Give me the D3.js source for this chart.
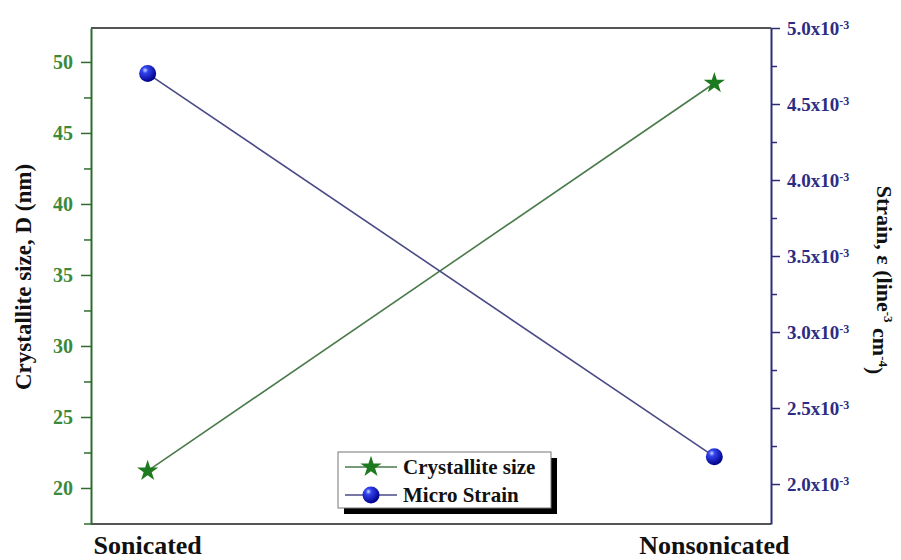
<!DOCTYPE html>
<html>
<head>
<meta charset="utf-8">
<script src="https://cdn.jsdelivr.net/npm/d3@7"></script>
<style>
  body { margin: 0; background: #fff; }
  text { font-family: "Liberation Serif", "Times New Roman", serif; font-weight: bold; }
</style>
</head>
<body>
<div class="graph"></div>
<script>
var categories = ['Sonicated', 'Nonsonicated'],
    crystalliteSize = [21.2, 48.5],
    microStrain = [4.70e-3, 2.18e-3]

var leftTicks = [20, 25, 30, 35, 40, 45, 50],
    rightTicks = [2.0e-3, 2.5e-3, 3.0e-3, 3.5e-3, 4.0e-3, 4.5e-3, 5.0e-3]

var width = 901,
    height = 560,
    plotLeft = 91, plotRight = 771, plotTop = 28, plotBottom = 524

var x = d3.scalePoint()
    .domain(categories)
    .range([plotLeft, plotRight])
    .padding(0.1)

var yL = d3.scaleLinear()
    .domain([17.465, 52.39])
    .range([plotBottom, plotTop])

var yR = d3.scaleLinear()
    .domain([1.737e-3, 5.0e-3])
    .range([plotBottom, plotTop])

var svg = d3.select('.graph').append('svg')
    .attr('width', width)
    .attr('height', height)

var defs = svg.append('defs')
var grad = defs.append('radialGradient')
    .attr('id', 'ball')
    .attr('cx', '35%').attr('cy', '30%').attr('r', '70%')
grad.append('stop').attr('offset', '0%').attr('stop-color', '#c8d8ff')
grad.append('stop').attr('offset', '25%').attr('stop-color', '#3344ee')
grad.append('stop').attr('offset', '100%').attr('stop-color', '#00008a')

// frame lines top and bottom
svg.append('line')
    .attr('x1', plotLeft).attr('x2', plotRight).attr('y1', plotTop).attr('y2', plotTop)
    .style('stroke', '#555').style('stroke-width', 2)
svg.append('line')
    .attr('x1', plotLeft).attr('x2', plotRight).attr('y1', plotBottom).attr('y2', plotBottom)
    .style('stroke', '#555').style('stroke-width', 2)

// left axis
var greenAxis = '#2f6b2f', greenText = '#3b8a3b'
var minorL = leftTicks.slice(0, -1).map(function(d) { return d + 2.5 })
minorL.unshift(17.5)

svg.append('g')
    .attr('transform', `translate(${plotLeft},0)`)
    .call(d3.axisLeft(yL).tickValues(minorL).tickSize(7).tickFormat(''))
    .call(function(g) {
	g.select('.domain').remove()
	g.selectAll('line').style('stroke', greenAxis).style('stroke-width', 1.5)
    })

svg.append('g')
    .attr('transform', `translate(${plotLeft},0)`)
    .call(d3.axisLeft(yL).tickValues(leftTicks).tickSize(10).tickPadding(8).tickSizeOuter(0))
    .call(function(g) {
	g.select('.domain').style('stroke', greenAxis).style('stroke-width', 2)
	g.selectAll('.tick line').style('stroke', greenAxis).style('stroke-width', 1.5)
	g.selectAll('.tick text')
	    .style('fill', greenText)
	    .style('font-size', '20px')
	    .style('font-family', '"Liberation Serif", serif')
	    .style('font-weight', 'bold')
    })

// right axis
var blueAxis = '#2e2e78', blueText = '#2c2c82'
var minorR = rightTicks.slice(0, -1).map(function(d) { return d + 0.25e-3 })

svg.append('g')
    .attr('transform', `translate(${plotRight},0)`)
    .call(d3.axisRight(yR).tickValues(minorR).tickSize(6).tickFormat(''))
    .call(function(g) {
	g.select('.domain').remove()
	g.selectAll('line').style('stroke', blueAxis).style('stroke-width', 1.5)
    })

var rAxis = svg.append('g')
    .attr('transform', `translate(${plotRight},0)`)
    .call(d3.axisRight(yR).tickValues(rightTicks).tickSize(9).tickPadding(7).tickSizeOuter(0))
rAxis.select('.domain').style('stroke', blueAxis).style('stroke-width', 2)
rAxis.selectAll('.tick line').style('stroke', blueAxis).style('stroke-width', 1.5)
rAxis.selectAll('.tick text')
    .text(null)
    .style('fill', blueText)
    .style('font-size', '19px')
    .style('font-family', '"Liberation Serif", serif')
    .style('font-weight', 'bold')
    .each(function(d) {
	var t = d3.select(this)
	t.append('tspan').text((d * 1000).toFixed(1) + 'x10')
	t.append('tspan').attr('dy', '-0.5em').style('font-size', '12px').text('-3')
    })

// x labels
svg.selectAll('.xlab')
    .data(categories)
    .join('text')
    .attr('class', 'xlab')
    .attr('x', function(d) { return x(d) })
    .attr('y', 554)
    .attr('text-anchor', 'middle')
    .style('font-size', '26px')
    .style('fill', '#111')
    .text(function(d) { return d })

// axis titles
svg.append('text')
    .attr('transform', 'translate(31,277) rotate(-90)')
    .attr('text-anchor', 'middle')
    .style('font-size', '23px')
    .style('fill', '#111')
    .text('Crystallite size, D (nm)')

var rt = svg.append('text')
    .attr('transform', 'translate(877,280) rotate(90)')
    .attr('text-anchor', 'middle')
    .style('font-size', '22px')
    .style('fill', '#111')
rt.append('tspan').text('Strain, \u03b5 (line')
rt.append('tspan').attr('dy', '-0.5em').style('font-size', '13px').text('-3')
rt.append('tspan').attr('dy', '0.5em').text(' cm')
rt.append('tspan').attr('dy', '-0.5em').style('font-size', '13px').text('-4')
rt.append('tspan').attr('dy', '0.5em').text(')')

// lines
var lineL = d3.line()
    .x(function(d, i) { return x(categories[i]) })
    .y(function(d) { return yL(d) })
var lineR = d3.line()
    .x(function(d, i) { return x(categories[i]) })
    .y(function(d) { return yR(d) })

svg.append('path')
    .datum(crystalliteSize)
    .attr('d', lineL)
    .style('fill', 'none').style('stroke', '#4a7a4a').style('stroke-width', 1.6)
svg.append('path')
    .datum(microStrain)
    .attr('d', lineR)
    .style('fill', 'none').style('stroke', '#4a4a86').style('stroke-width', 1.6)

var star = d3.symbol().type(d3.symbolStar).size(140)

svg.selectAll('.star')
    .data(crystalliteSize)
    .join('path')
    .attr('class', 'star')
    .attr('d', star)
    .attr('transform', function(d, i) { return `translate(${x(categories[i])},${yL(d)})` })
    .style('fill', '#1e7a1e')

svg.selectAll('.ball')
    .data(microStrain)
    .join('circle')
    .attr('class', 'ball')
    .attr('cx', function(d, i) { return x(categories[i]) })
    .attr('cy', function(d) { return yR(d) })
    .attr('r', 8.5)
    .style('fill', 'url(#ball)')

// legend
var lg = svg.append('g').attr('transform', 'translate(338,452)')
lg.append('rect')
    .attr('x', 6).attr('y', 6).attr('width', 213).attr('height', 56)
    .style('fill', '#000')
lg.append('rect')
    .attr('width', 213).attr('height', 56)
    .style('fill', '#fff').style('stroke', '#777').style('stroke-width', 1)

var entries = [
    {name: 'Crystallite size', color: '#4a7a4a', kind: 'star'},
    {name: 'Micro Strain', color: '#4a4a86', kind: 'ball'}
]
entries.forEach(function(e, i) {
    var yy = 15 + i * 28
    lg.append('line')
	.attr('x1', 7).attr('x2', 59).attr('y1', yy).attr('y2', yy)
	.style('stroke', e.color).style('stroke-width', 1.6)
    if (e.kind == 'star') {
	lg.append('path').attr('d', star)
	    .attr('transform', `translate(33,${yy})`)
	    .style('fill', '#1e7a1e')
    } else {
	lg.append('circle').attr('cx', 33).attr('cy', yy).attr('r', 8.5)
	    .style('fill', 'url(#ball)')
    }
    lg.append('text')
	.attr('x', 65).attr('y', yy + 7)
	.style('font-size', '21px')
	.style('fill', '#111')
	.text(e.name)
})
</script>
</body>
</html>
